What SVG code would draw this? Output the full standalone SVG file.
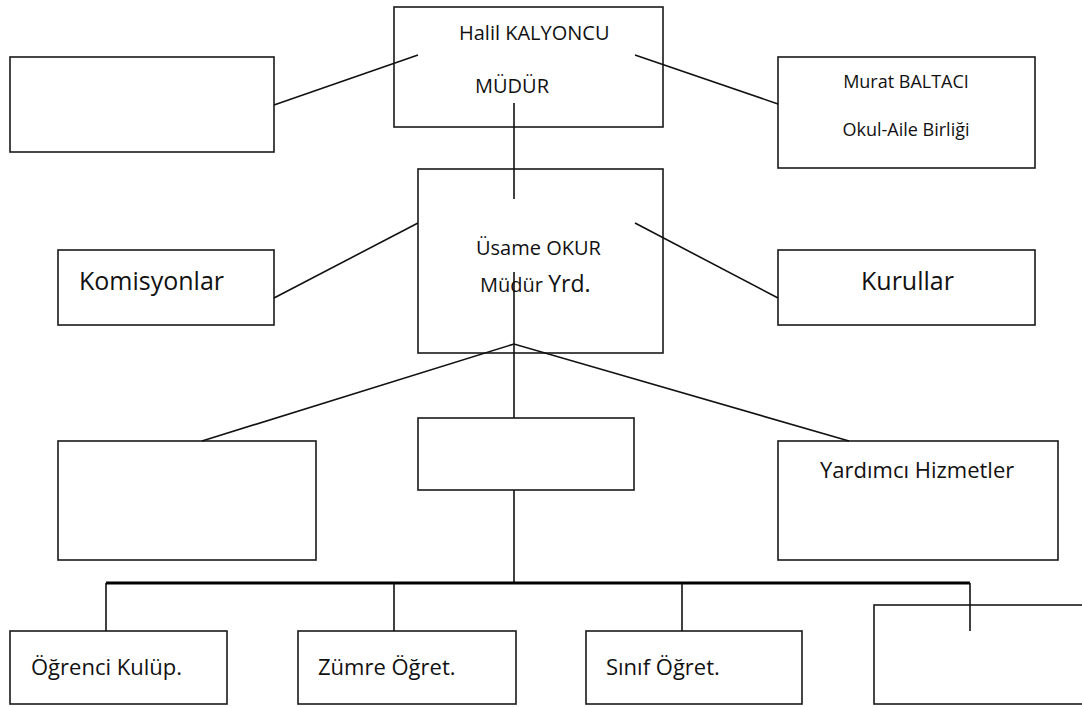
<svg xmlns="http://www.w3.org/2000/svg" width="1082" height="707" viewBox="0 0 1082 707">
<style>
.box{fill:#fff;stroke:#1a1a1a;stroke-width:1.6}
.ln{stroke:#111;stroke-width:1.6;fill:none}
.bar{stroke:#000;stroke-width:3.2;fill:none}
text{font-family:"Open Sans","Noto Sans","DejaVu Sans",sans-serif;fill:#111}
.t20{font-size:20px}
.t18{font-size:18px}
.t22{font-size:22px}
.t25{font-size:25px}
</style>
<rect width="1082" height="707" fill="#fff"/>
<g id="n-top-left"><rect class="box" x="10" y="57" width="264" height="95"/></g>
<g id="n-mudur"><rect class="box" x="394" y="7" width="269" height="120"/>
<text class="t20" x="459" y="40">Halil KALYONCU</text>
<text class="t20" x="475" y="93">MÜDÜR</text></g>
<g id="n-okul-aile"><rect class="box" x="778" y="57" width="257" height="111"/>
<text class="t18" x="906" y="88" text-anchor="middle">Murat BALTACI</text>
<text class="t18" x="906" y="136" text-anchor="middle">Okul-Aile Birliği</text></g>
<g id="n-mudur-yrd"><rect class="box" x="418" y="169" width="245" height="184"/>
<text class="t20" x="476" y="255">Üsame OKUR</text>
<text class="t20" x="480" y="292">Müdür <tspan font-size="23px">Yrd.</tspan></text></g>
<g id="n-komisyonlar"><rect class="box" x="58" y="250" width="216" height="75"/>
<text class="t25" x="79" y="290">Komisyonlar</text></g>
<g id="n-kurullar"><rect class="box" x="778" y="250" width="257" height="75"/>
<text class="t25" x="861" y="290">Kurullar</text></g>
<g id="n-mid-left"><rect class="box" x="58" y="441" width="258" height="119"/></g>
<g id="n-mid-center"><rect class="box" x="418" y="418" width="216" height="72"/></g>
<g id="n-yardimci"><rect class="box" x="778" y="441" width="280" height="119"/>
<text class="t22" x="820" y="478">Yardımcı Hizmetler</text></g>
<g id="n-ogrenci"><rect class="box" x="10" y="631" width="217" height="73"/>
<text class="t22" x="31" y="675">Öğrenci Kulüp.</text></g>
<g id="n-zumre"><rect class="box" x="298" y="631" width="218" height="73"/>
<text class="t22" x="318" y="675">Zümre Öğret.</text></g>
<g id="n-sinif"><rect class="box" x="586" y="631" width="216" height="73"/>
<text class="t22" x="606" y="675">Sınıf Öğret.</text></g>
<g id="n-bottom-right"><rect class="box" x="874" y="605" width="220" height="99"/></g>
<g id="connectors">
<line class="ln" x1="274" y1="105" x2="418" y2="55"/>
<line class="ln" x1="635" y1="55" x2="778" y2="104"/>
<line class="ln" x1="514" y1="103" x2="514" y2="199"/>
<line class="ln" x1="274" y1="298" x2="418" y2="223"/>
<line class="ln" x1="635" y1="223" x2="778" y2="298"/>
<line class="ln" x1="514" y1="272" x2="514" y2="418"/>
<polyline class="ln" points="202,441 514,344 849,441"/>
<line class="ln" x1="514" y1="490" x2="514" y2="583"/>
<line class="bar" x1="106" y1="583" x2="970" y2="583"/>
<line class="ln" x1="106" y1="583" x2="106" y2="631"/>
<line class="ln" x1="394" y1="583" x2="394" y2="631"/>
<line class="ln" x1="682" y1="583" x2="682" y2="631"/>
<line class="ln" x1="970" y1="583" x2="970" y2="631"/>
</g>
</svg>
